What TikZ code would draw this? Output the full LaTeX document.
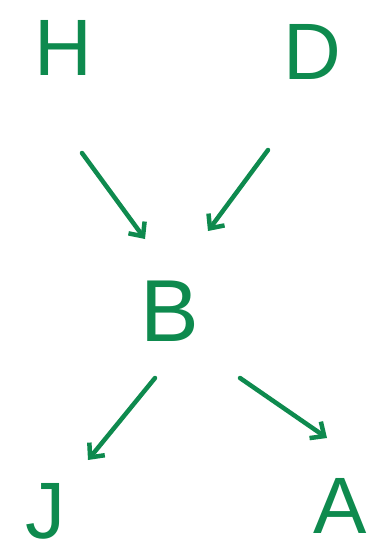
\documentclass[tikz,border=0pt]{standalone}
\usepackage{fontspec}
\setmainfont{Liberation Sans}
\usetikzlibrary{arrows.meta}

\begin{document}
\begin{tikzpicture}[x=1pt,y=-1pt]
\definecolor{pen}{HTML}{0E8A4E}
\tikzset{
  letter/.style={text=pen,inner sep=0pt,font=\fontsize{80}{90}\selectfont},
  arr/.style={draw=pen,line width=4.5pt,line cap=round,line join=round,
    -{Straight Barb[length=11pt,width=20pt]}}
}
\useasboundingbox (0,0) rectangle (380,555);
% ===== letters =====
\node[letter] (H) at (63,48) {H};
\node[letter] (D) at (312,52) {D};
\node[letter,font=\fontsize{88}{96}\selectfont] (B) at (170,311) {B};
\node[letter] (J) at (45,511) {J};
\node[letter] (A) at (340,506) {A};
% ===== arrows into B =====
\draw[arr] ([shift={(19,105)}]H.center) -- ([shift={(-25,-72)}]B.center);
\draw[arr] ([shift={(-44,98)}]D.center) -- ([shift={(38,-80)}]B.center);
% ===== arrows out of B =====
\draw[arr] ([shift={(-15,67)}]B.center) -- ([shift={(43,-51)}]J.center);
\draw[arr] ([shift={(70,67)}]B.center) -- ([shift={(-13,-68)}]A.center);
\end{tikzpicture}
\end{document}
